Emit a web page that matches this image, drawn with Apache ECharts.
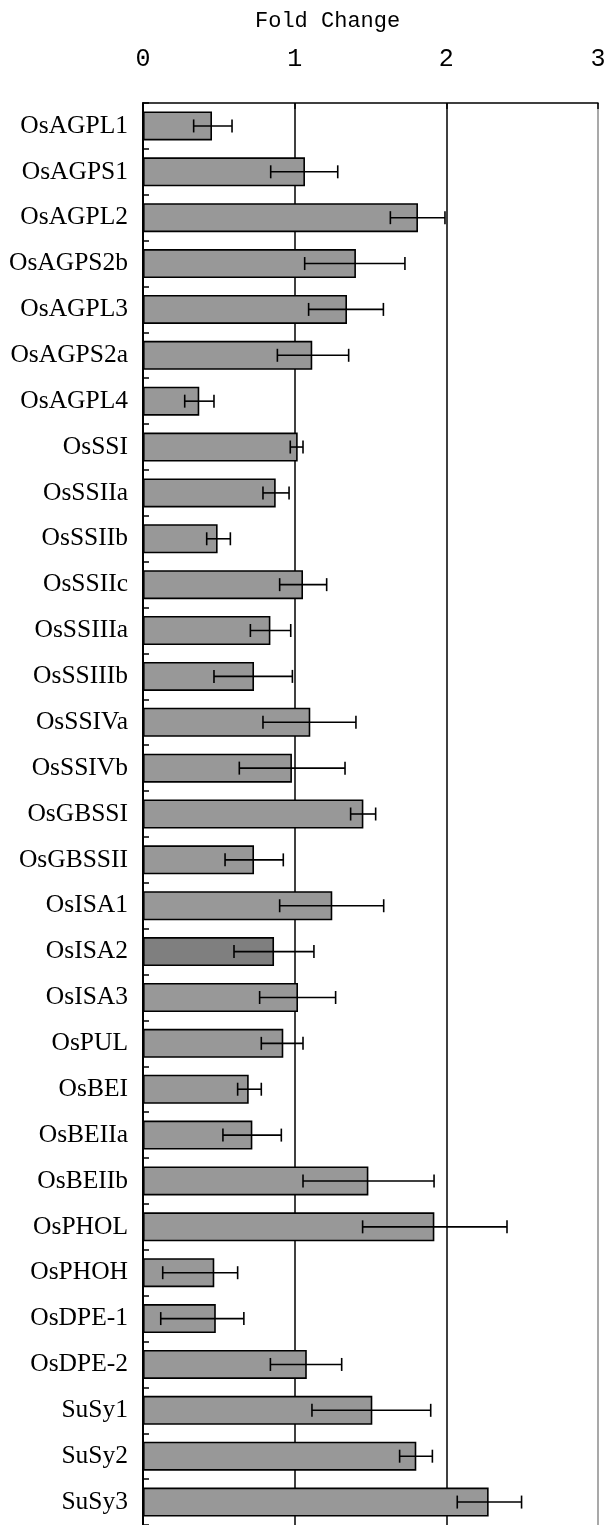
<!DOCTYPE html>
<html>
<head>
<meta charset="utf-8">
<script src="https://cdn.jsdelivr.net/npm/echarts@6/dist/echarts.min.js"></script>
<style>
html,body{margin:0;padding:0;background:#fff;}
#chart{width:609px;height:1525px;}
</style>
</head>
<body>
<div id="chart"></div>
<script>
const categories = ['OsAGPL1','OsAGPS1','OsAGPL2','OsAGPS2b','OsAGPL3','OsAGPS2a','OsAGPL4','OsSSI','OsSSIIa','OsSSIIb','OsSSIIc','OsSSIIIa','OsSSIIIb','OsSSIVa','OsSSIVb','OsGBSSI','OsGBSSII','OsISA1','OsISA2','OsISA3','OsPUL','OsBEI','OsBEIIa','OsBEIIb','OsPHOL','OsPHOH','OsDPE-1','OsDPE-2','SuSy1','SuSy2','SuSy3'];
const foldChange = [0.455,1.068,1.813,1.404,1.345,1.116,0.371,1.020,0.875,0.492,1.055,0.840,0.732,1.103,0.982,1.453,0.732,1.248,0.864,1.022,0.925,0.697,0.721,1.486,1.921,0.470,0.480,1.080,1.512,1.802,2.279];
const errLow = [0.334,0.842,1.631,1.066,1.092,0.886,0.275,0.971,0.791,0.420,0.901,0.708,0.468,0.791,0.635,1.369,0.541,0.901,0.600,0.769,0.780,0.624,0.527,1.055,1.448,0.130,0.117,0.840,1.114,1.692,2.072];
const errHigh = [0.587,1.284,1.991,1.727,1.585,1.356,0.468,1.055,0.963,0.576,1.211,0.974,0.985,1.404,1.332,1.534,0.925,1.587,1.127,1.270,1.055,0.780,0.912,1.919,2.400,0.624,0.665,1.310,1.897,1.908,2.496];
const xTicks = [0,1,2,3];
const axisTitle = 'Fold Change';
const highlighted = 'OsISA2';

const chart = echarts.init(document.getElementById('chart'));
const barData = foldChange.map((v,i)=>({
  value: v,
  itemStyle: {color: categories[i] === highlighted ? '#7f7f7f' : '#989898'}
}));
const errData = categories.map((c,i)=>[errLow[i], errHigh[i], i]);

chart.setOption({
  animation:false,
  backgroundColor:'#fff',
  title:{
    text: axisTitle,
    left: 250, top: 5,
    textStyle:{fontFamily:'Liberation Mono', fontSize:22, fontWeight:'normal', color:'#000'}
  },
  grid:{left:143, top:103, width:455, height:1426, containLabel:false},
  xAxis:{
    type:'value', position:'top', min:xTicks[0], max:xTicks[xTicks.length-1], interval:1,
    axisLine:{show:true, lineStyle:{color:'#000', width:1.5}},
    axisTick:{show:true, inside:true, length:6, lineStyle:{color:'#000', width:1.5}},
    axisLabel:{fontFamily:'Liberation Mono', fontSize:25, color:'#000', margin:31,
      formatter:(v)=> xTicks.includes(v) ? String(v) : ''},
    splitLine:{show:true, lineStyle:{color:['#000','#000','#000','#8c8c8c'], width:1.5}}
  },
  yAxis:{
    type:'category', data:categories, inverse:true,
    axisLine:{show:true, lineStyle:{color:'#000', width:2}},
    axisTick:{show:true, inside:true, length:6, alignWithLabel:false, lineStyle:{color:'#000', width:1.5}},
    axisLabel:{fontFamily:'Liberation Serif', fontSize:25.5, color:'#000', margin:15},
    splitLine:{show:false}
  },
  series:[
    {
      type:'bar', data:barData, barWidth:29,
      itemStyle:{borderColor:'#000', borderWidth:1.6},
      z:2
    },
    {
      type:'custom', data:errData, z:3,
      encode:{x:[0,1], y:2},
      renderItem:function(params, api){
        const p1 = api.coord([api.value(0), api.value(2)]);
        const p2 = api.coord([api.value(1), api.value(2)]);
        const h = 6.5;
        const st = {stroke:'#000', lineWidth:1.6};
        return {type:'group', children:[
          {type:'line', shape:{x1:p1[0], y1:p1[1], x2:p2[0], y2:p2[1]}, style:st},
          {type:'line', shape:{x1:p1[0], y1:p1[1]-h, x2:p1[0], y2:p1[1]+h}, style:st},
          {type:'line', shape:{x1:p2[0], y1:p2[1]-h, x2:p2[0], y2:p2[1]+h}, style:st}
        ]};
      }
    }
  ]
});
</script>
</body>
</html>
